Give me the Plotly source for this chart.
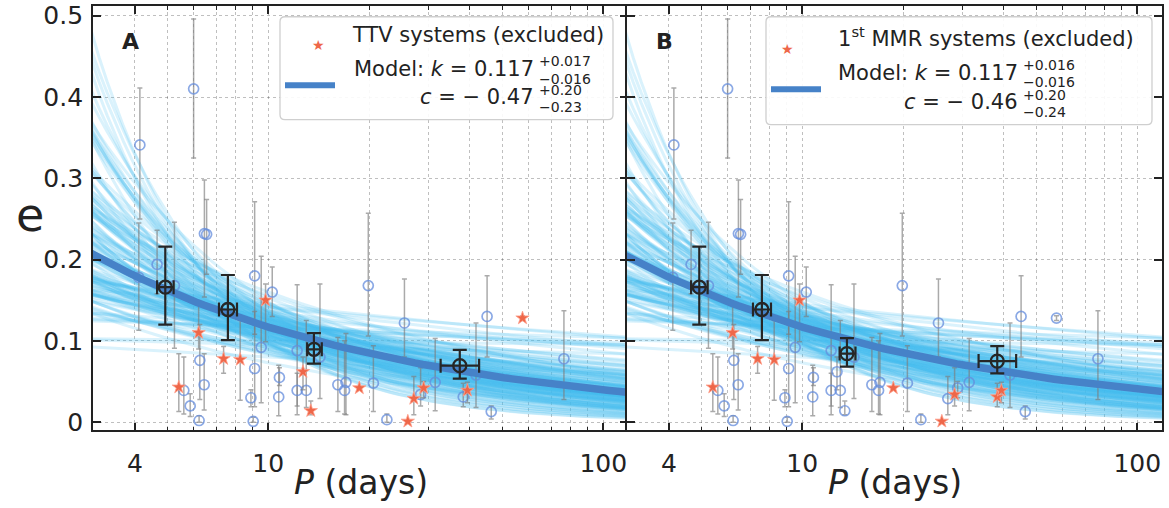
import numpy as np
import plotly.graph_objects as go

W, H = 1169, 508

# ---------------- data ----------------
period = [4.11, 4.14, 4.66, 5.25, 5.41, 5.60, 5.85, 6.22, 6.20, 6.25, 6.44, 6.45, 6.55, 5.99,
          7.36, 8.25, 8.88, 9.02, 9.11, 9.11, 9.53, 9.82, 10.28, 10.80, 10.75, 12.2, 12.2,
          12.99, 12.7, 13.4, 14.27, 16.14, 17.06, 16.9, 18.7, 19.89, 20.6, 22.6, 25.5, 26.1,
          27.2, 28.5, 29.1, 31.5, 38.2, 39.3, 41.7, 45.0, 46.3, 57.4, 76.3]
ecc = [0.178, 0.341, 0.194, 0.168, 0.043, 0.039, 0.020, 0.002, 0.110, 0.076, 0.046, 0.232,
       0.231, 0.410, 0.078, 0.077, 0.030, 0.001, 0.066, 0.180, 0.092, 0.150, 0.160, 0.055,
       0.031, 0.088, 0.039, 0.039, 0.062, 0.014, 0.080, 0.046, 0.049, 0.039, 0.042, 0.168,
       0.048, 0.003, 0.122, 0.001, 0.029, 0.034, 0.042, 0.049, 0.031, 0.039, 0.058, 0.130,
       0.013, 0.128, 0.078]
ecc_lo = [0.113, 0.250, 0.158, 0.091, 0.013, 0.010, 0.007, 0.000, 0.090, 0.028, 0.015, 0.154,
          0.182, 0.325, 0.060, 0.027, 0.019, 0.000, 0.019, 0.108, 0.024, 0.099, 0.130, 0.045,
          0.008, 0.009, 0.020, 0.018, 0.040, 0.009, 0.029, 0.013, 0.009, 0.010, 0.042, 0.106,
          0.013, 0.000, 0.080, 0.001, 0.009, 0.020, 0.030, 0.014, 0.019, 0.024, 0.018, 0.080,
          0.004, 0.125, 0.028]
ecc_hi = [0.245, 0.411, 0.236, 0.246, 0.084, 0.080, 0.035, 0.008, 0.144, 0.120, 0.084, 0.298,
          0.274, 0.496, 0.093, 0.125, 0.040, 0.006, 0.136, 0.271, 0.204, 0.170, 0.191, 0.067,
          0.070, 0.169, 0.060, 0.125, 0.080, 0.026, 0.170, 0.104, 0.109, 0.100, 0.042, 0.257,
          0.094, 0.010, 0.176, 0.001, 0.056, 0.067, 0.050, 0.103, 0.048, 0.049, 0.122, 0.180,
          0.020, 0.131, 0.137]
ttv_flag = [0, 0, 0, 0, 1, 0, 0, 0, 1, 0, 0, 0, 0, 0, 1, 1, 0, 0, 0, 0, 0, 1, 0, 0, 0, 0, 0,
            0, 1, 1, 0, 0, 0, 0, 1, 0, 0, 0, 0, 1, 1, 0, 1, 0, 0, 1, 0, 0, 0, 1, 0]
mmr_flag = [0, 0, 0, 0, 1, 0, 0, 0, 1, 0, 0, 0, 0, 0, 1, 1, 0, 0, 0, 0, 0, 1, 0, 0, 0, 0, 0,
            0, 0, 0, 0, 0, 0, 0, 1, 0, 0, 0, 0, 1, 0, 1, 0, 0, 1, 1, 0, 0, 0, 0, 0]

# binned points
binA_P = [4.93, 7.58, 13.69, 37.3]
binA_Plo = [4.66, 7.13, 13.07, 32.7]
binA_Phi = [5.22, 8.07, 14.45, 42.6]
binA_e = [0.166, 0.1386, 0.0896, 0.0695]
binA_elo = [0.120, 0.101, 0.072, 0.0535]
binA_ehi = [0.216, 0.181, 0.1096, 0.089]

binB_P = [4.93, 7.58, 13.6, 38.2]
binB_Plo = [4.66, 7.13, 12.93, 33.6]
binB_Phi = [5.22, 8.07, 14.42, 43.5]
binB_e = [0.166, 0.1386, 0.0843, 0.0751]
binB_elo = [0.120, 0.101, 0.0683, 0.0599]
binB_ehi = [0.216, 0.181, 0.1033, 0.0936]

# model parameters  e = k * (P / 10)^c
modelA = dict(k=0.117, c=-0.47)
modelB = dict(k=0.117, c=-0.46)
P_pivot = 10.0

# posterior samples (k, c)
k_samples = [0.122, 0.097, 0.131, 0.119, 0.108, 0.144, 0.102, 0.124, 0.114, 0.153,
             0.088, 0.127, 0.117, 0.105, 0.136, 0.112, 0.132, 0.093, 0.120, 0.115,
             0.139, 0.107, 0.125, 0.080, 0.129, 0.110, 0.148, 0.100, 0.120, 0.103,
             0.134, 0.113, 0.123, 0.091, 0.160, 0.116, 0.126, 0.098, 0.137, 0.109,
             0.128, 0.114, 0.085, 0.105, 0.121, 0.106, 0.131, 0.095, 0.118, 0.146,
             0.104, 0.125, 0.111, 0.135, 0.083, 0.130, 0.108, 0.095, 0.101, 0.120,
             0.143, 0.096, 0.124, 0.115, 0.118, 0.103, 0.127, 0.090, 0.119, 0.137,
             0.112, 0.129, 0.107, 0.140, 0.099, 0.122, 0.114, 0.073, 0.132, 0.117,
             0.126, 0.109, 0.121, 0.094, 0.100, 0.113, 0.130, 0.104, 0.110, 0.118,
             0.101, 0.127, 0.111, 0.134, 0.092, 0.123, 0.116, 0.141, 0.106, 0.128,
             0.087, 0.125, 0.110, 0.136, 0.100, 0.119, 0.145, 0.108, 0.131, 0.097,
             0.122, 0.114, 0.156, 0.103, 0.126, 0.112, 0.133, 0.095, 0.120, 0.100,
             0.105, 0.124, 0.116, 0.147, 0.089, 0.129, 0.110, 0.135, 0.102, 0.118,
             0.142, 0.107, 0.126, 0.098, 0.121, 0.113, 0.131, 0.084, 0.137, 0.115,
             0.123, 0.106, 0.144, 0.100, 0.128, 0.111, 0.119, 0.134, 0.096, 0.117]
c_samples = [-0.42, -0.71, -0.35, -0.55, -0.18, -0.62, -0.48, -0.90, -0.29, -0.51,
             -0.66, -0.38, -0.05, -0.47, -0.80, -0.33, -0.58, -0.44, -1.10, -0.25,
             -0.52, -0.69, -0.40, -0.12, -0.57, -0.36, -0.75, -0.49, -0.22, -0.63,
             -0.45, -0.95, -0.31, -0.54, -0.41, -0.07, -0.60, -0.84, -0.39, -0.50,
             -0.27, -0.68, -0.46, -1.25, -0.34, -0.56, -0.15, -0.73, -0.43, -0.53,
             -0.20, -0.65, -0.37, -0.88, -0.48, -0.30, -0.59, -0.05, -0.44, -0.78,
             -0.40, -0.52, -0.24, -0.61, -1.02, -0.35, -0.47, -0.70, -0.10, -0.55,
             -0.42, -0.83, -0.32, -0.58, -0.46, -0.19, -0.67, -0.50, -0.38, -0.93,
             -0.28, -0.54, -0.45, -0.74, -0.02, -0.49, -0.63, -0.36, -1.15, -0.41,
             -0.57, -0.23, -0.51, -0.79, -0.33, -0.60, -0.47, -0.12, -0.43, -0.68,
             -0.39, -0.86, -0.26, -0.53, -0.48, -0.64, -0.14, -0.56, -0.44, -0.98,
             -0.31, -0.59, -0.40, -0.72, -0.21, -0.50, -0.37, -0.66, -0.46, -1.20,
             -0.34, -0.55, -0.08, -0.62, -0.42, -0.81, -0.29, -0.52, -0.45, -0.70,
             -0.17, -0.58, -0.38, -0.91, -0.48, -0.27, -0.61, -0.43, -0.20, -0.54,
             -0.76, -0.35, -0.50, -0.65, -0.40, -0.24, -0.57, -0.47, -1.06, -0.32]

x_ticks = [4, 10, 100]
x_minor = [3, 5, 6, 7, 8, 9, 20, 30, 40, 50, 60, 70, 80, 90]
y_ticks = [0, 0.1, 0.2, 0.3, 0.4, 0.5]
y_ticklabels = ["0", "0.1", "0.2", "0.3", "0.4", "0.5"]

# ---------------- styling ----------------
FONT = "DejaVu Sans"
SPAG = "rgba(70,190,240,0.2)"
MODEL = "#4682c8"
CIRC = "rgba(100,140,220,0.75)"
STAR = "#ee6749"
EBAR = "rgba(125,125,125,0.65)"
BINC = "#262626"

P_grid = np.logspace(np.log10(2.8), np.log10(130), 70)

fig = go.Figure()


def add_panel(xa, ya, flags, bP, bPlo, bPhi, be, belo, behi, model):
    # spaghetti of posterior draws
    for k, c in zip(k_samples, c_samples):
        fig.add_trace(go.Scatter(x=P_grid, y=k * (P_grid / P_pivot) ** c, mode="lines",
                                 line=dict(color=SPAG, width=3), hoverinfo="skip",
                                 showlegend=False, xaxis=xa, yaxis=ya))
    # data points
    for want, sym in ((0, "circle"), (1, "star")):
        idx = [i for i, f in enumerate(flags) if f == want]
        px_ = [period[i] for i in idx]
        py_ = [ecc[i] for i in idx]
        ep = [ecc_hi[i] - ecc[i] for i in idx]
        em = [ecc[i] - ecc_lo[i] for i in idx]
        if sym == "circle":
            marker = dict(symbol="circle-open", size=10, color=CIRC, line=dict(width=1.7, color=CIRC))
        else:
            marker = dict(symbol="star", size=10, color=STAR, line=dict(width=0.8, color="rgba(255,160,140,1)"))
        fig.add_trace(go.Scatter(x=px_, y=py_, mode="markers", marker=marker,
                                 error_y=dict(type="data", array=ep, arrayminus=em,
                                              color=EBAR, thickness=1.5, width=2.5),
                                 showlegend=False, xaxis=xa, yaxis=ya))
    # model
    fig.add_trace(go.Scatter(x=P_grid, y=model["k"] * (P_grid / P_pivot) ** model["c"],
                             mode="lines", line=dict(color=MODEL, width=7.5),
                             showlegend=False, xaxis=xa, yaxis=ya))
    # binned points
    fig.add_trace(go.Scatter(
        x=bP, y=be, mode="markers",
        marker=dict(symbol="circle-open", size=13, color=BINC, line=dict(width=2.3, color=BINC)),
        error_y=dict(type="data", array=[h - v for h, v in zip(behi, be)],
                     arrayminus=[v - l for v, l in zip(be, belo)],
                     color=BINC, thickness=2.2, width=7),
        error_x=dict(type="data", array=[h - v for h, v in zip(bPhi, bP)],
                     arrayminus=[v - l for v, l in zip(bP, bPlo)],
                     color=BINC, thickness=2.2, width=7),
        showlegend=False, xaxis=xa, yaxis=ya))


add_panel("x", "y", ttv_flag, binA_P, binA_Plo, binA_Phi, binA_e, binA_elo, binA_ehi, modelA)
add_panel("x2", "y2", mmr_flag, binB_P, binB_Plo, binB_Phi, binB_e, binB_elo, binB_ehi, modelB)

axis_common = dict(showline=True, linecolor="#222", linewidth=1.8, mirror="allticks",
                   ticks="inside", ticklen=8, tickwidth=1.5, tickcolor="#222",
                   showgrid=True, gridcolor="rgba(0,0,0,0.25)", griddash="dot", gridwidth=1,
                   zeroline=False, ticklabeloverflow="allow",
                   tickfont=dict(family=FONT, size=25, color="#222"))

xr = [np.log10(3.0), np.log10(118.5)]
yr = [-0.0102, 0.512]


def xaxis_cfg(dom):
    return dict(axis_common, type="log", range=xr, domain=dom, tickvals=x_ticks,
                ticktext=[str(v) for v in x_ticks], ticklabelstandoff=10,
                minor=dict(tickvals=x_minor, ticks="inside", ticklen=4, tickwidth=1.2,
                           tickcolor="#222", showgrid=True, gridcolor="rgba(0,0,0,0.25)",
                           griddash="dot", gridwidth=1))


def yaxis_cfg(anchor, labels):
    return dict(axis_common, range=yr, domain=[1 - 435 / H, 1 - 2 / H], anchor=anchor,
                tickvals=y_ticks, ticktext=y_ticklabels, showticklabels=labels,
                ticklabelstandoff=3)


def px(x):
    return x / W


def py(y):
    return 1 - y / H


fig.update_layout(
    width=W, height=H, margin=dict(l=0, r=0, t=0, b=0),
    paper_bgcolor="white", plot_bgcolor="white",
    xaxis=dict(xaxis_cfg([93 / W, 628 / W]), anchor="y"),
    yaxis=yaxis_cfg("x", True),
    xaxis2=dict(xaxis_cfg([627 / W, 1162 / W]), anchor="y2"),
    yaxis2=dict(yaxis_cfg("x2", False), matches="y"),
    font=dict(family=FONT, color="#222"),
)


def rounded_box(x0, y0, x1, y1, r=5):
    X0, X1 = px(x0), px(x1)
    Y0, Y1 = py(y0), py(y1)
    rx, ry = r / W, r / H
    return (f"M {X0+rx},{Y0} L {X1-rx},{Y0} Q {X1},{Y0} {X1},{Y0-ry} "
            f"L {X1},{Y1+ry} Q {X1},{Y1} {X1-rx},{Y1} L {X0+rx},{Y1} "
            f"Q {X0},{Y1} {X0},{Y1+ry} L {X0},{Y0-ry} Q {X0},{Y0} {X0+rx},{Y0} Z")


shapes = []
annotations = []


def ann(x, y, text, size, xanchor="left", **kw):
    annotations.append(dict(x=px(x), y=py(y), xref="paper", yref="paper", text=text,
                            showarrow=False, xanchor=xanchor, yanchor="middle",
                            font=dict(family=FONT, size=size, color="#222"), **kw))


# legend A
shapes.append(dict(type="path", path=rounded_box(280, 13, 613, 118), xref="paper", yref="paper",
                   fillcolor="rgba(255,255,255,0.9)", line=dict(color="#cfcfcf", width=1.3)))
shapes.append(dict(type="line", x0=px(285), x1=px(335), y0=py(83), y1=py(83), xref="paper",
                   yref="paper", line=dict(color=MODEL, width=6)))
annotations.append(dict(x=px(310), y=py(32), xref="paper", yref="paper", text="★", showarrow=False,
                        font=dict(family=FONT, size=14, color=STAR)))
ann(350, 32, "TTV systems (excluded)", 21)
ann(536, 66, "Model: <i>k</i> = 0.117", 21, xanchor="right")
ann(537, 58, "+0.017", 14)
ann(537, 76, "−0.016", 14)
ann(536, 95, "<i>c</i> = − 0.47", 21, xanchor="right")
ann(537, 87.5, "+0.20", 14)
ann(537, 105.5, "−0.23", 14)

# legend B
shapes.append(dict(type="path", path=rounded_box(766, 13, 1152, 123), xref="paper", yref="paper",
                   fillcolor="rgba(255,255,255,0.9)", line=dict(color="#cfcfcf", width=1.3)))
shapes.append(dict(type="line", x0=px(771), x1=px(821), y0=py(87), y1=py(87), xref="paper",
                   yref="paper", line=dict(color=MODEL, width=6)))
annotations.append(dict(x=px(796), y=py(36), xref="paper", yref="paper", text="★", showarrow=False,
                        font=dict(family=FONT, size=14, color=STAR)))
ann(836, 34, "1<sup>st</sup> MMR systems (excluded)", 21)
ann(1020, 70, "Model: <i>k</i> = 0.117", 21, xanchor="right")
ann(1021, 62, "+0.016", 14)
ann(1021, 80, "−0.016", 14)
ann(1020, 100, "<i>c</i> = − 0.46", 21, xanchor="right")
ann(1021, 92.5, "+0.20", 14)
ann(1021, 110.5, "−0.24", 14)

# panel labels
ann(130, 38, "<b>A</b>", 22, xanchor="center")
ann(664, 38, "<b>B</b>", 22, xanchor="center")

# axis titles
ann(360.5, 488, "<i>P</i> (days)", 33, xanchor="center")
ann(894.5, 488, "<i>P</i> (days)", 33, xanchor="center")
ann(30, 215, "e", 46, xanchor="center")

fig.update_layout(shapes=shapes, annotations=annotations)

fig.write_html("out.html")
